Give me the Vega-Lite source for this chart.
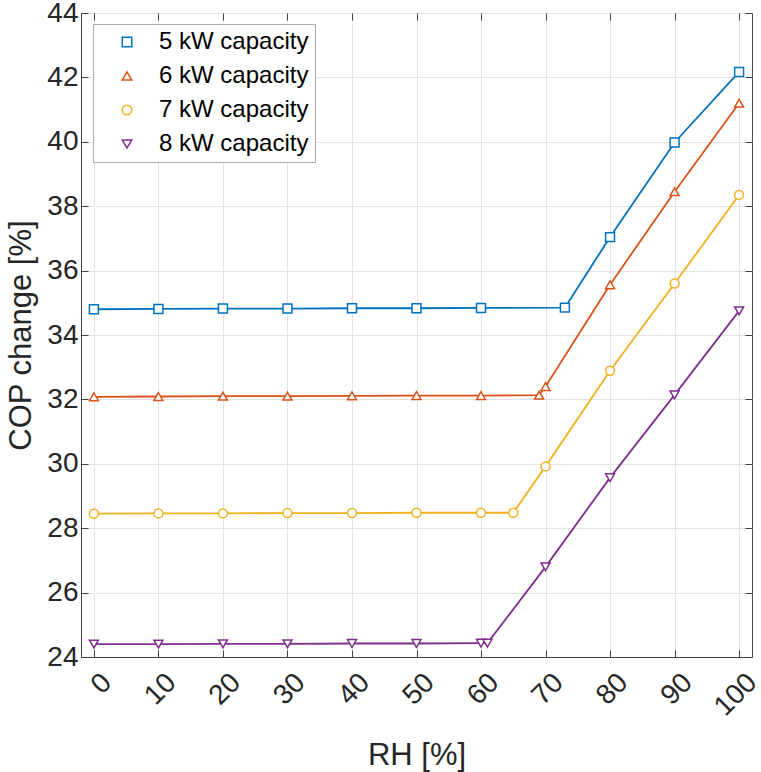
{
  "$schema": "https://vega.github.io/schema/vega-lite/v6.json",
  "width": 671,
  "height": 644,
  "autosize": "none",
  "padding": {"left": 81, "top": 13, "right": 9, "bottom": 115},
  "background": "white",
  "config": {
    "font": "Liberation Sans",
    "view": {"stroke": "#4d4d4d", "strokeWidth": 1},
    "axis": {
      "labelFont": "Liberation Sans",
      "titleFont": "Liberation Sans",
      "labelColor": "#262626",
      "titleColor": "#262626",
      "titleFontWeight": "normal",
      "domainColor": "#404040",
      "tickColor": "#404040",
      "gridColor": "#e3e3e3",
      "gridWidth": 1
    }
  },
  "data": {
    "values": [
      {"rh": 0, "cop": 34.80, "cap": "5 kW capacity"},
      {"rh": 10, "cop": 34.81, "cap": "5 kW capacity"},
      {"rh": 20, "cop": 34.82, "cap": "5 kW capacity"},
      {"rh": 30, "cop": 34.82, "cap": "5 kW capacity"},
      {"rh": 40, "cop": 34.83, "cap": "5 kW capacity"},
      {"rh": 50, "cop": 34.83, "cap": "5 kW capacity"},
      {"rh": 60, "cop": 34.84, "cap": "5 kW capacity"},
      {"rh": 73, "cop": 34.85, "cap": "5 kW capacity"},
      {"rh": 80, "cop": 37.04, "cap": "5 kW capacity"},
      {"rh": 90, "cop": 39.98, "cap": "5 kW capacity"},
      {"rh": 100, "cop": 42.17, "cap": "5 kW capacity"},
      {"rh": 0, "cop": 32.08, "cap": "6 kW capacity"},
      {"rh": 10, "cop": 32.09, "cap": "6 kW capacity"},
      {"rh": 20, "cop": 32.10, "cap": "6 kW capacity"},
      {"rh": 30, "cop": 32.10, "cap": "6 kW capacity"},
      {"rh": 40, "cop": 32.11, "cap": "6 kW capacity"},
      {"rh": 50, "cop": 32.12, "cap": "6 kW capacity"},
      {"rh": 60, "cop": 32.12, "cap": "6 kW capacity"},
      {"rh": 69, "cop": 32.13, "cap": "6 kW capacity"},
      {"rh": 70, "cop": 32.40, "cap": "6 kW capacity"},
      {"rh": 80, "cop": 35.56, "cap": "6 kW capacity"},
      {"rh": 90, "cop": 38.45, "cap": "6 kW capacity"},
      {"rh": 100, "cop": 41.20, "cap": "6 kW capacity"},
      {"rh": 0, "cop": 28.45, "cap": "7 kW capacity"},
      {"rh": 10, "cop": 28.46, "cap": "7 kW capacity"},
      {"rh": 20, "cop": 28.46, "cap": "7 kW capacity"},
      {"rh": 30, "cop": 28.47, "cap": "7 kW capacity"},
      {"rh": 40, "cop": 28.47, "cap": "7 kW capacity"},
      {"rh": 50, "cop": 28.48, "cap": "7 kW capacity"},
      {"rh": 60, "cop": 28.48, "cap": "7 kW capacity"},
      {"rh": 65, "cop": 28.48, "cap": "7 kW capacity"},
      {"rh": 70, "cop": 29.92, "cap": "7 kW capacity"},
      {"rh": 80, "cop": 32.89, "cap": "7 kW capacity"},
      {"rh": 90, "cop": 35.60, "cap": "7 kW capacity"},
      {"rh": 100, "cop": 38.35, "cap": "7 kW capacity"},
      {"rh": 0, "cop": 24.40, "cap": "8 kW capacity"},
      {"rh": 10, "cop": 24.40, "cap": "8 kW capacity"},
      {"rh": 20, "cop": 24.41, "cap": "8 kW capacity"},
      {"rh": 30, "cop": 24.41, "cap": "8 kW capacity"},
      {"rh": 40, "cop": 24.42, "cap": "8 kW capacity"},
      {"rh": 50, "cop": 24.42, "cap": "8 kW capacity"},
      {"rh": 60, "cop": 24.43, "cap": "8 kW capacity"},
      {"rh": 61, "cop": 24.43, "cap": "8 kW capacity"},
      {"rh": 70, "cop": 26.80, "cap": "8 kW capacity"},
      {"rh": 80, "cop": 29.57, "cap": "8 kW capacity"},
      {"rh": 90, "cop": 32.14, "cap": "8 kW capacity"},
      {"rh": 100, "cop": 34.75, "cap": "8 kW capacity"}
    ]
  },
  "layer": [
    {
      "mark": {"type": "line", "strokeWidth": 1.8},
      "encoding": {
        "x": {
          "field": "rh",
          "type": "quantitative",
          "scale": {"domain": [-2, 102], "nice": false, "zero": false},
          "axis": {
            "orient": "bottom",
            "title": "RH [%]",
            "titleFontSize": 31,
            "titlePadding": 20,
            "values": [0, 10, 20, 30, 40, 50, 60, 70, 80, 90, 100],
            "labelFontSize": 28,
            "labelAngle": -45,
            "labelAlign": "right",
            "labelBaseline": "middle",
            "labelOffset": 13,
            "labelPadding": 28,
            "tickSize": -7,
            "grid": true
          }
        },
        "y": {
          "field": "cop",
          "type": "quantitative",
          "scale": {"domain": [24, 44], "nice": false, "zero": false},
          "axis": {
            "orient": "left",
            "title": "COP change [%]",
            "titleFontSize": 31,
            "titlePadding": 9,
            "values": [24, 26, 28, 30, 32, 34, 36, 38, 40, 42, 44],
            "labelFontSize": 28,
            "labelPadding": 10,
            "tickSize": -7,
            "grid": true
          }
        },
        "color": {
          "field": "cap",
          "type": "nominal",
          "scale": {
            "domain": ["5 kW capacity", "6 kW capacity", "7 kW capacity", "8 kW capacity"],
            "range": ["#0072BD", "#D95319", "#EDB120", "#7E2F8E"]
          }
        }
      }
    },
    {
      "mark": {"type": "point", "filled": false, "fill": "white", "fillOpacity": 1, "opacity": 1, "strokeWidth": 1.5},
      "encoding": {
        "x": {
          "field": "rh",
          "type": "quantitative",
          "axis": {
            "orient": "top",
            "title": null,
            "labels": false,
            "domain": false,
            "grid": false,
            "values": [0, 10, 20, 30, 40, 50, 60, 70, 80, 90, 100],
            "tickSize": -7
          }
        },
        "y": {
          "field": "cop",
          "type": "quantitative",
          "axis": {
            "orient": "right",
            "title": null,
            "labels": false,
            "domain": false,
            "grid": false,
            "values": [24, 26, 28, 30, 32, 34, 36, 38, 40, 42, 44],
            "tickSize": -7
          }
        },
        "color": {
          "field": "cap",
          "type": "nominal",
          "legend": {
            "title": null,
            "orient": "none",
            "legendX": 12,
            "legendY": 11,
            "strokeColor": "#ababab",
            "fillColor": "white",
            "padding": 6,
            "labelFont": "Liberation Sans",
            "labelFontSize": 24,
            "labelColor": "#000000",
            "labelOffset": 20,
            "symbolOffset": 16,
            "rowPadding": 10,
            "symbolSize": 90,
            "symbolStrokeWidth": 1.5
          }
        },
        "shape": {
          "field": "cap",
          "type": "nominal",
          "scale": {
            "domain": ["5 kW capacity", "6 kW capacity", "7 kW capacity", "8 kW capacity"],
            "range": ["square", "triangle-up", "circle", "triangle-down"]
          },
          "legend": {
            "title": null,
            "orient": "none",
            "legendX": 12,
            "legendY": 11
          }
        },
        "size": {"value": 80}
      }
    }
  ],
  "resolve": {"axis": {"x": "independent", "y": "independent"}}
}
